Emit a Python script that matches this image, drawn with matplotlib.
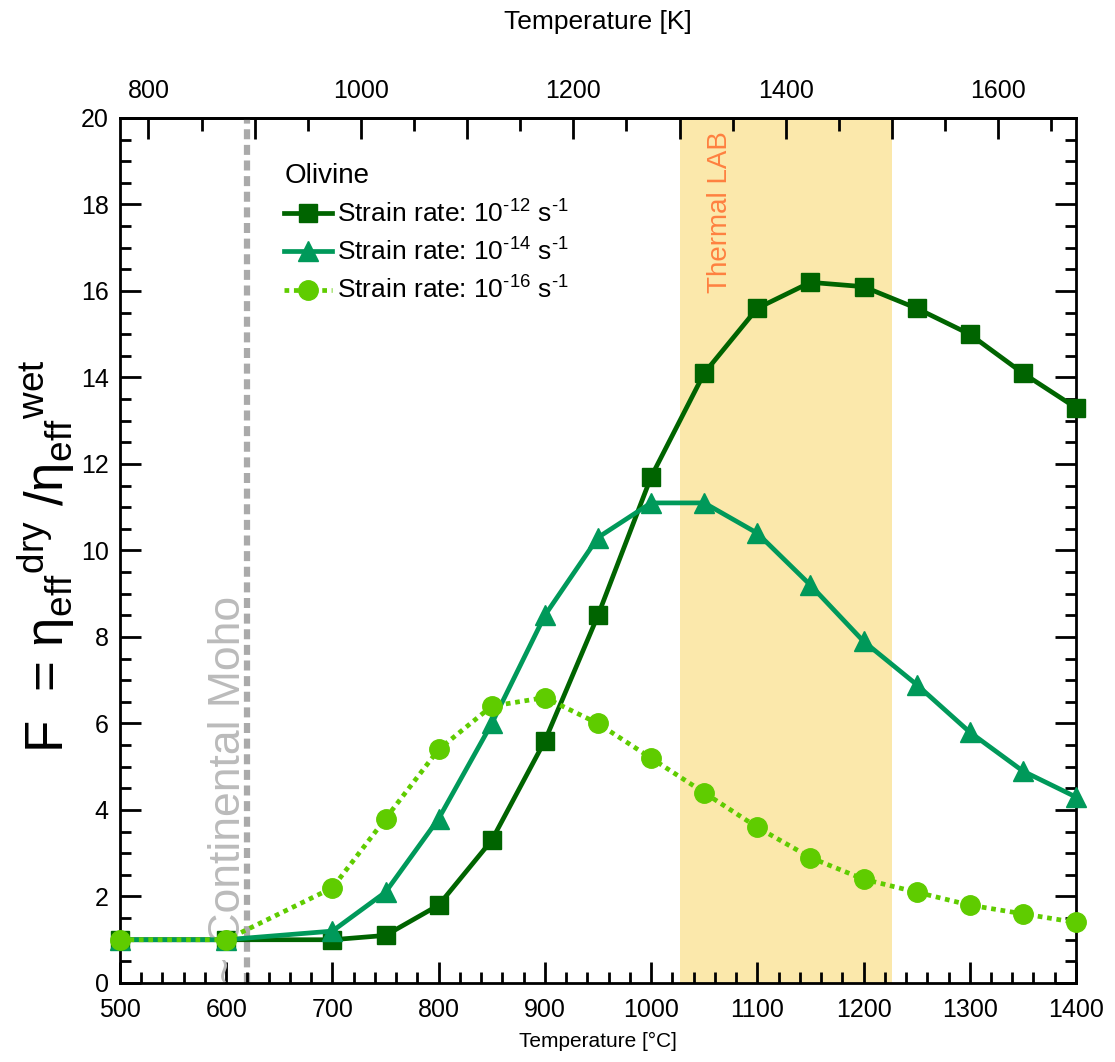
import matplotlib
matplotlib.use("Agg")
import matplotlib.pyplot as plt
from matplotlib.ticker import MultipleLocator, FuncFormatter

plt.rcParams['font.family'] = ['Liberation Sans', 'DejaVu Sans']
plt.rcParams['mathtext.fontset'] = 'custom'
plt.rcParams['mathtext.rm'] = 'Liberation Sans'
plt.rcParams['mathtext.it'] = 'Liberation Sans:italic'

# data
temp_c = [500, 600, 700, 750, 800, 850, 900, 950, 1000, 1050, 1100, 1150, 1200, 1250, 1300, 1350, 1400]
f_e12 = [1.0, 1.0, 1.0, 1.1, 1.8, 3.3, 5.6, 8.5, 11.7, 14.1, 15.6, 16.2, 16.1, 15.6, 15.0, 14.1, 13.3]
f_e14 = [1.0, 1.0, 1.2, 2.1, 3.8, 6.0, 8.5, 10.3, 11.1, 11.1, 10.4, 9.2, 7.9, 6.9, 5.8, 4.9, 4.3]
f_e16 = [1.0, 1.0, 2.2, 3.8, 5.4, 6.4, 6.6, 6.0, 5.2, 4.4, 3.6, 2.9, 2.4, 2.1, 1.8, 1.6, 1.4]
series_labels = [r'Strain rate: 10$^{\text{-12}}$ s$^{\text{-1}}$',
                 r'Strain rate: 10$^{\text{-14}}$ s$^{\text{-1}}$',
                 r'Strain rate: 10$^{\text{-16}}$ s$^{\text{-1}}$']
lab_k = (1300, 1500)   # thermal LAB band in kelvin
moho_c = 620


def c2k(t):
    return t + 273.15


def k2c(t):
    return t - 273.15


fig = plt.figure(figsize=(11.15, 10.62), dpi=100)
ax = fig.add_axes([0.1076, 0.0744, 0.8574, 0.8145])

ax.axvspan(k2c(lab_k[0]), k2c(lab_k[1]), color='#fbe8ab', lw=0, zorder=0)
ax.axvline(moho_c, color='#aaaaaa', lw=4.5, ls=(0, (1.6, 0.9)), zorder=1)

ax.plot(temp_c, f_e12, color='#006400', lw=3.4, marker='s', ms=13, label=series_labels[0],
        clip_on=False, zorder=3)
ax.plot(temp_c, f_e14, color='#00995a', lw=3.4, marker='^', ms=14, label=series_labels[1],
        clip_on=False, zorder=4)
ax.plot(temp_c, f_e16, color='#5fcc00', lw=3.4, ls=(0, (1, 1)), marker='o', ms=14,
        label=series_labels[2], clip_on=False, zorder=5)

ax.text(1065, 19.7, 'Thermal LAB', rotation=90, color='#ff8040', fontsize=20,
        ha='center', va='top')
ax.text(602, 0.0, '~ Continental Moho', rotation=90, color='#bbbbbb', fontsize=32,
        ha='center', va='bottom')

ax.set_xlim(500, 1400)
ax.set_ylim(0, 20)
ax.xaxis.set_major_locator(MultipleLocator(100))
ax.xaxis.set_minor_locator(MultipleLocator(20))
ax.yaxis.set_major_locator(MultipleLocator(2))
ax.yaxis.set_minor_locator(MultipleLocator(0.5))
ax.tick_params(which='both', direction='in', right=True, labelsize=18, width=2)
ax.tick_params(which='major', length=15)
ax.tick_params(which='minor', length=8)
ax.tick_params(axis='x', pad=11)
ax.tick_params(axis='y', pad=8)
for s in ax.spines.values():
    s.set_linewidth(2)

ax.set_xlabel('Temperature [°C]', fontsize=15, labelpad=7)
ax.set_ylabel(r'F  = η$_{\rm eff}{}^{\rm dry}$ /η$_{\rm eff}{}^{\rm wet}$', fontsize=38)
ax.yaxis.set_label_coords(-0.045, 0.493)

top = ax.secondary_xaxis('top', functions=(c2k, k2c))
top.xaxis.set_major_locator(MultipleLocator(100))
top.xaxis.set_minor_locator(MultipleLocator(50))
top.xaxis.set_major_formatter(FuncFormatter(lambda v, p: f'{v:.0f}' if round(v) % 200 == 0 else ''))
top.tick_params(which='both', direction='in', labelsize=18, width=2, pad=11)
top.tick_params(which='major', length=15)
top.tick_params(which='minor', length=9)
top.spines['top'].set_linewidth(2)
top.set_xlabel('Temperature [K]', fontsize=19, labelpad=36)

leg = ax.legend(title='Olivine', loc='upper left', bbox_to_anchor=(0.172, 0.948),
                frameon=False, fontsize=19, title_fontsize=20, handlelength=1.8,
                handletextpad=0.2, labelspacing=0.42, borderaxespad=0, borderpad=0)
leg._legend_box.align = 'left'

fig.savefig('out.png', dpi=100)
